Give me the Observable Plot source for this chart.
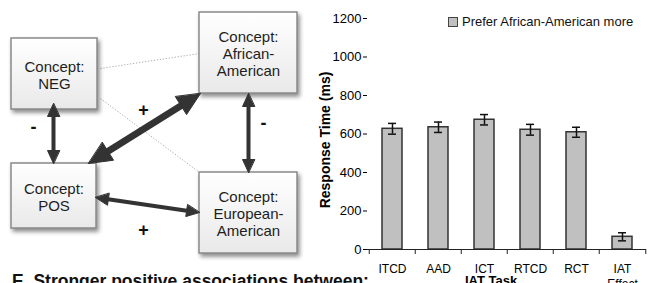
<!DOCTYPE html>
<html><head><meta charset="utf-8">
<script src="https://cdn.jsdelivr.net/npm/d3@7"></script>
<script src="https://cdn.jsdelivr.net/npm/@observablehq/plot@0.6"></script>
<style>
html,body{margin:0;padding:0;width:650px;height:283px;overflow:hidden;background:#fff;font-family:"Liberation Sans",Arial,sans-serif;}
#wrap{position:relative;width:650px;height:283px;overflow:hidden;}
#diagram{position:absolute;left:0;top:0;}
#chart{position:absolute;left:300px;top:0;}
#legend-sw{position:absolute;left:448px;top:17px;width:8px;height:8px;border:1px solid #444;background:#c0c0c0;}
#legend-tx{position:absolute;left:462px;top:15px;font-size:13px;line-height:13px;color:#111;white-space:nowrap;}
#title{position:absolute;left:12px;top:273px;font-size:17.5px;line-height:17px;font-weight:bold;color:#111;white-space:nowrap;}
</style></head>
<body>
<div id="wrap">
  <div id="diagram"></div>
  <div id="chart"></div>
  <div id="legend-sw"></div><div id="legend-tx"></div>
  <div id="title"></div>
</div>
<script>
// ---------- data ----------
const conceptLabels = ["Concept:\nNEG", "Concept:\nAfrican-\nAmerican", "Concept:\nPOS", "Concept:\nEuropean-\nAmerican"];
const linkSigns = ["-", "+", "-", "+"];
const panelTitle = "E. Stronger positive associations between:";

const tasks = ["ITCD", "AAD", "ICT", "RTCD", "RCT", "IAT Effect"];
const taskLabels = ["ITCD", "AAD", "ICT", "RTCD", "RCT", "IAT\nEffect"];
const meanRT = [627, 635, 674, 622, 609, 66];
const errRT = [28, 27, 27, 28, 26, 21];
const yTicks = [0, 200, 400, 600, 800, 1000, 1200];
const seriesName = "Prefer African-American more";
const xTitle = "IAT Task";
const yTitle = "Response Time (ms)";

// ---------- diagram layout (pixel geometry, identity scales) ----------
const boxLayout = [
  {x1: 11, x2: 97, y1: 38, y2: 109},
  {x1: 199, x2: 297, y1: 12, y2: 93},
  {x1: 11, x2: 96, y1: 163, y2: 228},
  {x1: 199, x2: 297, y1: 172, y2: 253}
];
const linkLayout = [
  {ax: 53, ay: 103, bx: 53, by: 163, w: 4, head: 13, hw: 12, lx: 33, ly: 127},
  {ax: 88, ay: 163, bx: 200, by: 93, w: 7, head: 23, hw: 21, lx: 143, ly: 110},
  {ax: 248, ay: 93, bx: 248, by: 172, w: 4, head: 13, hw: 12, lx: 263, ly: 123},
  {ax: 95, ay: 197, bx: 199, by: 212, w: 4, head: 13, hw: 12, lx: 143, ly: 230}
];
const weakLayout = [
  {ax: 100, ay: 68, bx: 199, by: 53},
  {ax: 100, ay: 98, bx: 199, by: 172}
];

const boxes = boxLayout.map((b, i) => ({...b, label: conceptLabels[i]}));
const shafts = [], heads = [], signs = [];
linkLayout.forEach((L, i) => {
  const dx = L.bx - L.ax, dy = L.by - L.ay, len = Math.hypot(dx, dy);
  const ux = dx / len, uy = dy / len, nx = -uy, ny = ux;
  shafts.push({x1: L.ax + ux * L.head * 0.85, y1: L.ay + uy * L.head * 0.85,
               x2: L.bx - ux * L.head * 0.85, y2: L.by - uy * L.head * 0.85, w: L.w});
  [[L.ax, L.ay, 1], [L.bx, L.by, -1]].forEach(([tx, ty, s]) => {
    const cx = tx + s * ux * L.head, cy = ty + s * uy * L.head, id = i + ":" + s;
    heads.push({id, x: tx, y: ty},
               {id, x: cx + nx * L.hw / 2, y: cy + ny * L.hw / 2},
               {id, x: cx - nx * L.hw / 2, y: cy - ny * L.hw / 2});
  });
  signs.push({x: L.lx, y: L.ly, t: linkSigns[i]});
});

const diagram = Plot.plot({
  width: 320, height: 283, margin: 0,
  x: {type: "identity"}, y: {type: "identity"},
  style: {background: "transparent", overflow: "visible", fontFamily: "Liberation Sans, Arial, sans-serif"},
  marks: [
    Plot.link(weakLayout, {x1: "ax", y1: "ay", x2: "bx", y2: "by", stroke: "#a8a8a8", strokeWidth: 1, strokeDasharray: "1.2,1.8"}),
    Plot.rect(boxes, {x1: "x1", x2: "x2", y1: "y1", y2: "y2", fill: "url(#boxgrad)", stroke: "#8a8a8a", strokeWidth: 1.5}),
    Plot.text(boxes, {x: d => (d.x1 + d.x2) / 2, y: d => (d.y1 + d.y2) / 2 + 1, text: "label", fontSize: 15, lineHeight: 1.13, fill: "#1e1e1e"}),
    Plot.link(shafts, {x1: "x1", y1: "y1", x2: "x2", y2: "y2", stroke: "#333", strokeWidth: "w"}),
    Plot.line(heads, {x: "x", y: "y", z: "id", fill: "#333", stroke: "#333", strokeWidth: 1, curve: "linear-closed"}),
    Plot.text(signs, {x: "x", y: "y", text: "t", fontSize: 18, fontWeight: "bold", fill: "#111"})
  ]
});
const dsvg = d3.select(diagram);
const grad = dsvg.insert("defs", ":first-child").append("linearGradient")
  .attr("id", "boxgrad").attr("x1", 0).attr("y1", 0).attr("x2", 0).attr("y2", 1);
grad.append("stop").attr("offset", 0).attr("stop-color", "#ffffff");
grad.append("stop").attr("offset", 1).attr("stop-color", "#e9e9e9");
dsvg.selectAll('g[aria-label="rect"] rect').style("filter", "drop-shadow(2px 3px 2px rgba(0,0,0,0.45))");
document.getElementById("diagram").appendChild(diagram);

// ---------- bar chart ----------
const W = 350, H = 283, mL = 67, mR = 4, mT = 18, mB = 34;
const step = (W - mL - mR) / tasks.length;
const rows = tasks.map((t, i) => ({task: t, mean: meanRT[i], err: errRT[i]}));
const chart = Plot.plot({
  width: W, height: H, marginLeft: mL, marginRight: mR, marginTop: mT, marginBottom: mB,
  style: {background: "transparent", overflow: "visible", fontFamily: "Liberation Sans, Arial, sans-serif", fontSize: "13px", color: "#000"},
  x: {domain: tasks, paddingInner: 0.57, paddingOuter: 0.285, axis: null},
  y: {domain: [0, 1200], axis: null},
  marks: [
    Plot.barY(rows, {x: "task", y: "mean", fill: "#c0c0c0", stroke: "#333", strokeWidth: 1.5}),
    Plot.ruleX(rows, {x: "task", y1: d => d.mean - d.err, y2: d => d.mean + d.err, stroke: "#111", strokeWidth: 1.5}),
    Plot.tickY(rows, {x: "task", y: d => d.mean + d.err, insetLeft: 6, insetRight: 6, stroke: "#111", strokeWidth: 1.5}),
    Plot.tickY(rows, {x: "task", y: d => d.mean - d.err, insetLeft: 6, insetRight: 6, stroke: "#111", strokeWidth: 1.5}),
    Plot.ruleY([0], {stroke: "#222", strokeWidth: 1.2}),
    Plot.axisY({ticks: yTicks, tickFormat: d => String(d), tickSize: 4, tickPadding: 2, label: null, line: true, fontSize: 13}),
    Plot.ruleX(tasks, {x: d => d, dx: -step / 2, y1: 0, y2: 0, insetBottom: -5, stroke: "#222"}),
    Plot.ruleX([tasks[tasks.length - 1]], {x: d => d, dx: step / 2, y1: 0, y2: 0, insetBottom: -5, stroke: "#222"}),
    Plot.axisX({tickSize: 0, tickPadding: 13, tickFormat: d => taskLabels[tasks.indexOf(d)], label: null, fontSize: 12, lineHeight: 1.25}),
    Plot.text([xTitle], {text: d => d, frameAnchor: "bottom", dx: -16, dy: 35, lineAnchor: "bottom", fontWeight: "bold", fontSize: 13}),
    Plot.text([yTitle], {text: d => d, frameAnchor: "left", textAnchor: "middle", rotate: -90, dx: -42, dy: 6, fontWeight: "bold", fontSize: 14})
  ]
});
document.getElementById("chart").appendChild(chart);

document.getElementById("legend-tx").textContent = seriesName;
document.getElementById("title").textContent = panelTitle;
</script>
</body></html>
